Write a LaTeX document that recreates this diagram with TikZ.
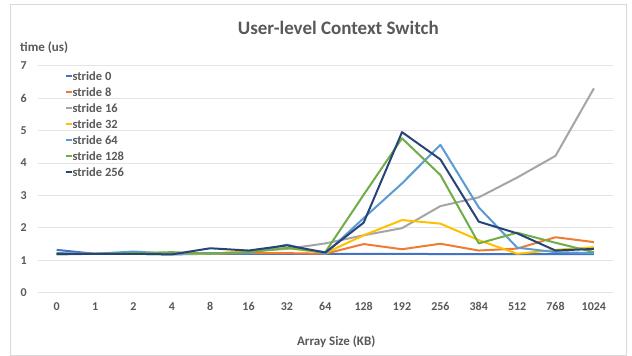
\documentclass[tikz,border=0pt]{standalone}
\usepackage{fontspec}
\setmainfont{Carlito}
\definecolor{txt}{HTML}{595959}
\definecolor{gridc}{HTML}{E4E4E4}
\definecolor{framec}{HTML}{D9D9D9}
\definecolor{c0}{HTML}{4472C4}
\definecolor{c8}{HTML}{ED7D31}
\definecolor{c16}{HTML}{A5A5A5}
\definecolor{c32}{HTML}{FFC000}
\definecolor{c64}{HTML}{5B9BD5}
\definecolor{c128}{HTML}{70AD47}
\definecolor{c256}{HTML}{264478}

\begin{document}
\begin{tikzpicture}[x=1pt, y=1pt,
  every node/.style = {inner sep=0pt, text=txt},
  tick/.style = {font=\fontsize{12}{14}\selectfont\bfseries},
  axistitle/.style = {font=\fontsize{13}{15}\selectfont\bfseries},
  gridline/.style = {gridc, line width=0.8pt},
  curve/.style = {line width=2pt, line join=round},
  s0/.style = {curve, c0}, s8/.style = {curve, c8}, s16/.style = {curve, c16},
  s32/.style = {curve, c32}, s64/.style = {curve, c64},
  s128/.style = {curve, c128}, s256/.style = {curve, c256}]
  \useasboundingbox (0,0) rectangle (632,356);
  \fill[white] (0,0) rectangle (632,356);
  \draw[framec, line width=0.8pt] (10,1) rectangle (626.5,351.5);

  \node[font=\fontsize{19}{22}\selectfont\bfseries, anchor=base] (title) at (338.3,321.7)
    {User-level Context Switch};
  \node[axistitle, anchor=base west] (ytitle) at (20,304.5) {time (us)};
  \node[axistitle, anchor=base] (xtitle) at (336.2,10) {Array Size (KB)};

  \begin{scope}[shift={(56.7,63.3)}, x=38.37pt, y=32.43pt]
    \foreach \t in {0,...,7}{
      \draw[gridline] (-0.5,\t) -- (14.5,\t);
      \node[tick, anchor=east] (ytick\t) at ([xshift=-10.5pt]-0.5,\t) {\t};
    }
    \foreach \lab [count=\i from 0] in {0,1,2,4,8,16,32,64,128,192,256,384,512,768,1024}
      \node[tick] (xtick\i) at ([yshift=-14pt]\i,0) {\lab};

    % one polyline per stride
    \draw[s0] (0,1.32) \foreach \v [count=\i] in
      {1.2,1.2,1.18,1.2,1.2,1.2,1.2,1.2,1.2,1.19,1.19,1.19,1.19,1.19}{ -- (\i,\v)};
    \draw[s8] (0,1.19) \foreach \v [count=\i] in
      {1.2,1.2,1.2,1.2,1.22,1.22,1.2,1.5,1.34,1.51,1.3,1.36,1.71,1.56}{ -- (\i,\v)};
    \draw[s16] (0,1.2) \foreach \v [count=\i] in
      {1.2,1.2,1.2,1.2,1.27,1.35,1.52,1.77,1.99,2.67,2.94,3.55,4.22,6.3}{ -- (\i,\v)};
    \draw[s32] (0,1.2) \foreach \v [count=\i] in
      {1.2,1.2,1.22,1.2,1.28,1.38,1.22,1.77,2.24,2.13,1.62,1.2,1.32,1.4}{ -- (\i,\v)};
    \draw[s64] (0,1.22) \foreach \v [count=\i] in
      {1.2,1.27,1.2,1.22,1.22,1.48,1.2,2.3,3.37,4.56,2.63,1.39,1.25,1.22}{ -- (\i,\v)};
    \draw[s128] (0,1.18) \foreach \v [count=\i] in
      {1.2,1.22,1.25,1.2,1.25,1.38,1.25,3.02,4.76,3.63,1.52,1.85,1.54,1.25}{ -- (\i,\v)};
    \draw[s256] (0,1.2) \foreach \v [count=\i] in
      {1.2,1.2,1.18,1.37,1.3,1.46,1.24,2.16,4.95,4.11,2.19,1.83,1.3,1.35}{ -- (\i,\v)};
  \end{scope}

  % legend
  \foreach \s/\lab [count=\k from 0] in {s0/stride 0, s8/stride 8, s16/stride 16,
      s32/stride 32, s64/stride 64, s128/stride 128, s256/stride 256}{
    \draw[\s] (65.7,{280.3-16*\k}) -- (71.7,{280.3-16*\k});
    \node[tick, font=\fontsize{12.5}{14}\selectfont\bfseries, anchor=west] (leg\k)
      at (72.3,{280.3-16*\k}) {\lab};
  }
\end{tikzpicture}
\end{document}
